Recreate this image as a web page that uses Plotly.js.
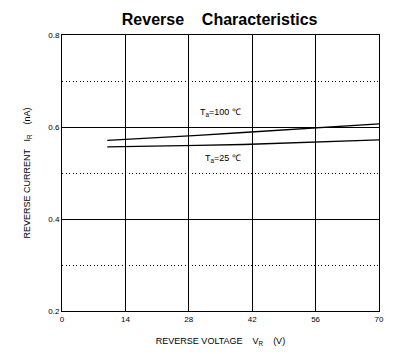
<!DOCTYPE html>
<html>
<head>
<meta charset="utf-8">
<script src="https://cdn.plot.ly/plotly-3.0.1.min.js"></script>
<style>html,body{margin:0;padding:0;background:#fff;}#chart{width:409px;height:354px;}</style>
</head>
<body>
<div id="chart"></div>
<script>
const voltage = [10, 20, 30, 40, 50, 60, 70];
const current100 = [0.571, 0.576, 0.582, 0.588, 0.594, 0.601, 0.607];
const current25 = [0.557, 0.558, 0.560, 0.562, 0.565, 0.568, 0.572];
const xTicks = [0, 14, 28, 42, 56, 70];
const yTicks = [0.2, 0.4, 0.6, 0.8];
const labels = [
  {text: 'T<sub>a</sub>=100 ℃', x: 35, y: 0.632},
  {text: 'T<sub>a</sub>=25 ℃', x: 35.6, y: 0.532}
];

const traces = [
  {x: voltage, y: current100, mode: 'lines', line: {color: '#000', width: 1.3}, hoverinfo: 'skip'},
  {x: voltage, y: current25, mode: 'lines', line: {color: '#000', width: 1.3}, hoverinfo: 'skip'}
];

const font = 'Liberation Sans, Arial, sans-serif';
const layout = {
  width: 409, height: 354,
  margin: {l: 62.3, r: 29.7, t: 35.3, b: 43},
  paper_bgcolor: '#fff', plot_bgcolor: '#fff',
  showlegend: false,
  title: {text: '<b>Reverse&nbsp;&nbsp;&nbsp;&nbsp;Characteristics</b>', x: 0.537, xanchor: 'center', y: 0.945, yanchor: 'middle',
          font: {family: font, size: 16, color: '#000'}},
  xaxis: {
    range: [0, 70], tickvals: xTicks, ticktext: xTicks.map(String),
    showgrid: true, gridcolor: '#000', gridwidth: 1,
    showline: true, linecolor: '#000', linewidth: 1, mirror: true,
    zeroline: false, ticks: '', tickfont: {family: font, size: 8, color: '#000'},
    title: {text: 'REVERSE VOLTAGE&nbsp;&nbsp;&nbsp;&nbsp;V<sub>R</sub>&nbsp;&nbsp;&nbsp;&nbsp;(V)', standoff: 15,
            font: {family: font, size: 9, color: '#000'}},
    fixedrange: true
  },
  yaxis: {
    range: [0.2, 0.8], tickvals: yTicks, ticktext: yTicks.map(v => v.toFixed(1)),
    showgrid: true, gridcolor: '#000', gridwidth: 1,
    minor: {dtick: 0.1, tick0: 0.2, showgrid: true, gridcolor: '#000', gridwidth: 1, griddash: '1px,2.5px', ticks: ''},
    showline: true, linecolor: '#000', linewidth: 1, mirror: true,
    zeroline: false, ticks: '', tickfont: {family: font, size: 8, color: '#000'},
    title: {text: 'REVERSE CURRENT&nbsp;&nbsp;&nbsp;I<sub>R</sub>&nbsp;&nbsp;&nbsp;&nbsp;(nA)', standoff: 16,
            font: {family: font, size: 9, color: '#000'}},
    fixedrange: true
  },
  annotations: labels.map(l => ({
    text: l.text, x: l.x, y: l.y, xref: 'x', yref: 'y', showarrow: false,
    font: {family: font, size: 9, color: '#000'}, xanchor: 'center', yanchor: 'middle'
  }))
};

Plotly.newPlot('chart', traces, layout, {staticPlot: true, displayModeBar: false});
</script>
</body>
</html>
